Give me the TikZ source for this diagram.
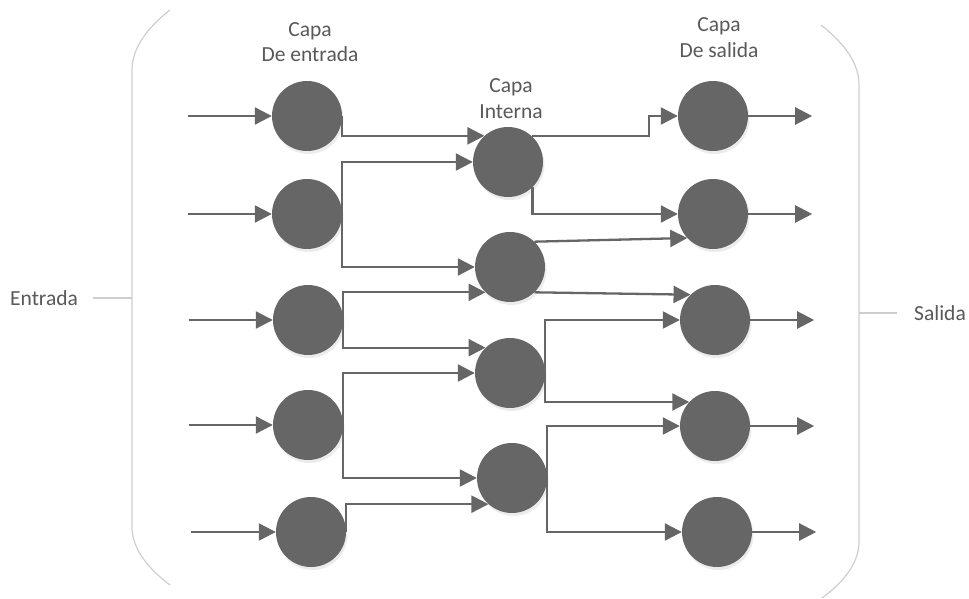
\documentclass[tikz,border=0pt]{standalone}
\usepackage{fontspec}
\setmainfont{Carlito}
\usetikzlibrary{arrows.meta,calc,shadows}
\definecolor{nodegray}{HTML}{666666}
\definecolor{txtgray}{HTML}{595959}
\definecolor{brgray}{HTML}{CFCFCF}
\begin{document}
\begin{tikzpicture}[x=1pt,y=-1pt,
  neuron/.style={circle,fill=nodegray,minimum size=70pt,inner sep=0pt,
    drop shadow={opacity=0.15,shadow xshift=1.5pt,shadow yshift=-3pt}},
  conn/.style={draw=nodegray,line width=2.3pt,-{Triangle[length=17pt,width=17pt]}},
  lbl/.style={font=\fontsize{21.5}{26}\selectfont,text=txtgray,anchor=base,inner sep=0pt},
  brace/.style={draw=brgray,line width=1.2pt}]
\fill[white] (0,0) rectangle (969,599);
\useasboundingbox (0,0) rectangle (969,599);

% brackets
\draw[brace] (170,10) .. controls (152,24) and (132,45) .. (132,70) -- (132,527)
  .. controls (132,550) and (150,570) .. (170,585);
\draw[brace] (821,25) .. controls (840,40) and (859,60) .. (859,85) -- (859,542)
  .. controls (859,565) and (840,585) .. (822,598);
\coordinate (lb) at (132,298);
\coordinate (rb) at (859,313);
\draw[brace] (lb) -- ++(-39,0);
\draw[brace] (rb) -- ++(38,0);

% labels
\node[lbl] (tin1) at (310,37) {Capa};
\node[lbl] (tin2) at (310,62) {De entrada};
\node[lbl] (thid1) at (511,93) {Capa};
\node[lbl] (thid2) at (511,119) {Interna};
\node[lbl] (tout1) at (719,32) {Capa};
\node[lbl] (tout2) at (719,58) {De salida};
\node[lbl,anchor=base west] (tent) at (10,305) {Entrada};
\node[lbl,anchor=base west] (tsal) at (914,320) {Salida};

% neurons
\node[neuron] (I1) at (307,116) {};
\node[neuron] (I2) at (307,214) {};
\node[neuron] (I3) at (308,320) {};
\node[neuron] (I4) at (308,425) {};
\node[neuron] (I5) at (311,532) {};
\node[neuron] (H1) at (508,162) {};
\node[neuron] (H2) at (510,267) {};
\node[neuron] (H3) at (510,373) {};
\node[neuron] (H4) at (512,478) {};
\node[neuron] (O1) at (713,116) {};
\node[neuron] (O2) at (713,214) {};
\node[neuron] (O3) at (715,320) {};
\node[neuron] (O4) at (715,426) {};
\node[neuron] (O5) at (717,532) {};

% inputs
\foreach \n in {I1,I2,I3,I4}
  \draw[conn] ($(\n.west)+(-84,0)$) -- (\n.west);
\draw[conn] ($(I5.west)+(-85,0)$) -- (I5.west);

% input -> hidden
\draw[conn] (I1.east) |- (H1.132);
\draw[conn] (I2.east) |- (H1.west);
\draw[conn] (I2.east) |- (H2.west);
\draw[conn] (I3.east) |- (H2.226);
\draw[conn] (I3.east) |- (H3.134);
\draw[conn] (I4.east) |- (H3.west);
\draw[conn] (I4.east) |- (H4.west);
\draw[conn] (I5.east) |- (H4.228);

% hidden -> output
\draw[conn] (H1.48) -| ($(O1.west)+(-29,0)$) -- (O1.west);
\draw[conn] (H1.314) |- (O2.west);
\draw[conn] (H2.46) -- (O2.223);
\draw[conn] (H2.314) -- (O3.134);
\draw[conn] (H3.east) |- (O3.west);
\draw[conn] (H3.east) |- (O4.137);
\draw[conn] (H4.east) |- (O4.west);
\draw[conn] (H4.east) |- (O5.west);

% outputs
\foreach \n in {O1,O2,O3,O4,O5}
  \draw[conn] (\n.east) -- ++(64,0);
\end{tikzpicture}
\end{document}
